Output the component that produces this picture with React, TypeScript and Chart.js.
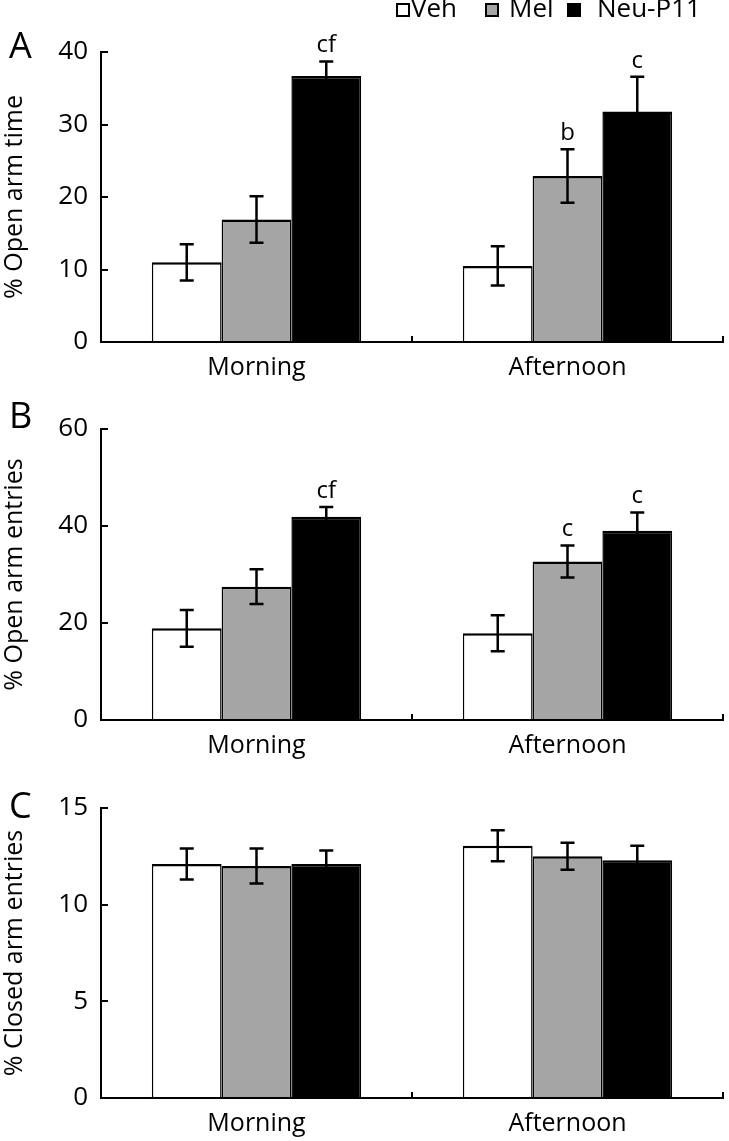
import React, { useEffect, useRef } from "react";
import { Chart, registerables } from "chart.js";

Chart.register(...registerables);

// ---------- data ----------
const categories = ["Morning", "Afternoon"];
const seriesNames = ["Veh", "Mel", "Neu-P11"];

// Panel A: % Open arm time
const vehA = [11.0, 10.5];
const melA = [16.9, 22.9];
const neuA = [36.7, 31.8];
const vehAErr = [2.5, 2.7];
const melAErr = [3.2, 3.7];
const neuAErr = [2.0, 4.8];
const vehAMarks = ["", ""];
const melAMarks = ["", "b"];
const neuAMarks = ["cf", "c"];

// Panel B: % Open arm entries
const vehB = [18.9, 17.9];
const melB = [27.5, 32.7];
const neuB = [41.9, 39.0];
const vehBErr = [3.8, 3.7];
const melBErr = [3.6, 3.3];
const neuBErr = [2.0, 3.8];
const vehBMarks = ["", ""];
const melBMarks = ["", "c"];
const neuBMarks = ["cf", "c"];

// Panel C: % Closed arm entries
const vehC = [12.1, 13.05];
const melC = [12.0, 12.5];
const neuC = [12.1, 12.3];
const vehCErr = [0.8, 0.8];
const melCErr = [0.9, 0.7];
const neuCErr = [0.7, 0.75];
const vehCMarks = ["", ""];
const melCMarks = ["", ""];
const neuCMarks = ["", ""];

// ---------- styles ----------
const FONT = "'Open Sans', 'Liberation Sans', sans-serif";
const seriesColors = ["#ffffff", "#a5a5a5", "#000000"];
const legendLayout = [
  { box: 397, text: 411 },
  { box: 486, text: 509 },
  { box: 568, text: 597 },
];

type PanelCfg = {
  letter: string;
  letterY: number;
  title: string;
  max: number;
  step: number;
  data: number[][];
  errs: number[][];
  marks: string[][];
  top: number;
  height: number;
  padTop: number;
  padBottom: number;
  legend: boolean;
};

const panels: PanelCfg[] = [
  {
    letter: "A", letterY: 58, title: "% Open arm time", max: 40, step: 10,
    data: [vehA, melA, neuA], errs: [vehAErr, melAErr, neuAErr], marks: [vehAMarks, melAMarks, neuAMarks],
    top: 0, height: 385, padTop: 52, padBottom: 3, legend: true,
  },
  {
    letter: "B", letterY: 43, title: "% Open arm entries", max: 60, step: 20,
    data: [vehB, melB, neuB], errs: [vehBErr, melBErr, neuBErr], marks: [vehBMarks, melBMarks, neuBMarks],
    top: 385, height: 380, padTop: 44, padBottom: 5, legend: false,
  },
  {
    letter: "C", letterY: 53, title: "% Closed arm entries", max: 15, step: 5,
    data: [vehC, melC, neuC], errs: [vehCErr, melCErr, neuCErr], marks: [vehCMarks, melCMarks, neuCMarks],
    top: 765, height: 376, padTop: 43, padBottom: 3, legend: false,
  },
];

function Panel({ cfg }: { cfg: PanelCfg }) {
  const ref = useRef<HTMLCanvasElement>(null);

  useEffect(() => {
    if (!ref.current) return;

    const extras = {
      id: "extras",
      afterDraw(chart: any) {
        const ctx = chart.ctx as CanvasRenderingContext2D;
        const yScale = chart.scales.y;
        ctx.save();
        ctx.strokeStyle = "#000";
        ctx.fillStyle = "#000";
        ctx.lineWidth = 2.5;
        cfg.data.forEach((vals, di) => {
          const meta = chart.getDatasetMeta(di);
          vals.forEach((v, i) => {
            const bar = meta.data[i];
            const x = bar.x;
            const e = cfg.errs[di][i];
            const yt = yScale.getPixelForValue(v + e);
            const yb = yScale.getPixelForValue(v - e);
            ctx.strokeStyle = "#000";
            ctx.lineWidth = 2.5;
            ctx.beginPath();
            ctx.moveTo(x, yt);
            ctx.lineTo(x, yb);
            ctx.moveTo(x - 7, yt);
            ctx.lineTo(x + 7, yt);
            ctx.moveTo(x - 7, yb);
            ctx.lineTo(x + 7, yb);
            ctx.stroke();
            const m = cfg.marks[di][i];
            if (m) {
              ctx.font = `24px ${FONT}`;
              ctx.textAlign = "center";
              ctx.textBaseline = "alphabetic";
              ctx.fillStyle = "#000";
              ctx.fillText(m, x, yt - 9);
            }
          });
        });

        // panel letter
        ctx.font = `36px ${FONT}`;
        ctx.textAlign = "left";
        ctx.textBaseline = "alphabetic";
        ctx.fillStyle = "#000";
        ctx.fillText(cfg.letter, 9, cfg.letterY);

        // legend
        if (cfg.legend) {
          const ds = chart.data.datasets;
          ds.forEach((d: any, di: number) => {
            const pos = legendLayout[di];
            ctx.fillStyle = d.backgroundColor;
            ctx.fillRect(pos.box, 4, 12, 12);
            ctx.strokeStyle = "#000";
            ctx.lineWidth = 2;
            ctx.strokeRect(pos.box, 4, 12, 12);
            ctx.fillStyle = "#000";
            ctx.font = `26px ${FONT}`;
            ctx.textAlign = "left";
            ctx.textBaseline = "alphabetic";
            ctx.fillText(d.label, pos.text, 17);
          });
        }
        ctx.restore();
      },
    };

    const chart = new Chart(ref.current, {
      type: "bar",
      data: {
        labels: categories,
        datasets: seriesNames.map((n, di) => ({
          label: n,
          data: cfg.data[di],
          backgroundColor: seriesColors[di],
          borderColor: "#000",
          borderWidth: { top: 2.5, left: 1.5, right: 1.5, bottom: 0 },
          borderSkipped: "start",
          categoryPercentage: 0.673,
          barPercentage: 1,
        })),
      },
      options: {
        animation: false,
        responsive: false,
        maintainAspectRatio: false,
        devicePixelRatio: 1,
        layout: { padding: { top: cfg.padTop, bottom: cfg.padBottom, left: 0, right: 6 } },
        plugins: {
          legend: { display: false },
          tooltip: { enabled: false },
        },
        scales: {
          x: {
            z: 1,
            ticks: { color: "#000", font: { family: FONT, size: 25 }, padding: 17 },
            grid: {
              offset: true,
              drawOnChartArea: false,
              drawTicks: true,
              tickLength: -6,
              color: "#000",
              lineWidth: 2,
            },
            border: { display: true, color: "#000", width: 2 },
            afterFit: (s: any) => {
              s.height = 40;
            },
          },
          y: {
            z: 1,
            min: 0,
            max: cfg.max,
            ticks: { stepSize: cfg.step, color: "#000", font: { family: FONT, size: 26 }, padding: 20 },
            grid: {
              drawOnChartArea: false,
              drawTicks: true,
              tickLength: -7,
              color: "#000",
              lineWidth: 2,
            },
            border: { display: true, color: "#000", width: 2 },
            title: {
              display: true,
              text: cfg.title,
              color: "#000",
              font: { family: FONT, size: 25, lineHeight: 1.2 },
              padding: { top: 0, bottom: 0 },
            },
            afterFit: (s: any) => {
              s.width = 101;
            },
          },
        },
      } as any,
      plugins: [extras],
    });

    return () => chart.destroy();
  }, [cfg]);

  return (
    <canvas
      ref={ref}
      width={729}
      height={cfg.height}
      style={{ position: "absolute", left: 0, top: cfg.top, display: "block" }}
    />
  );
}

export default function App() {
  return (
    <div style={{ position: "absolute", left: 0, top: 0, width: 729, height: 1141, background: "#fff" }}>
      {panels.map((p) => (
        <Panel key={p.letter} cfg={p} />
      ))}
    </div>
  );
}
